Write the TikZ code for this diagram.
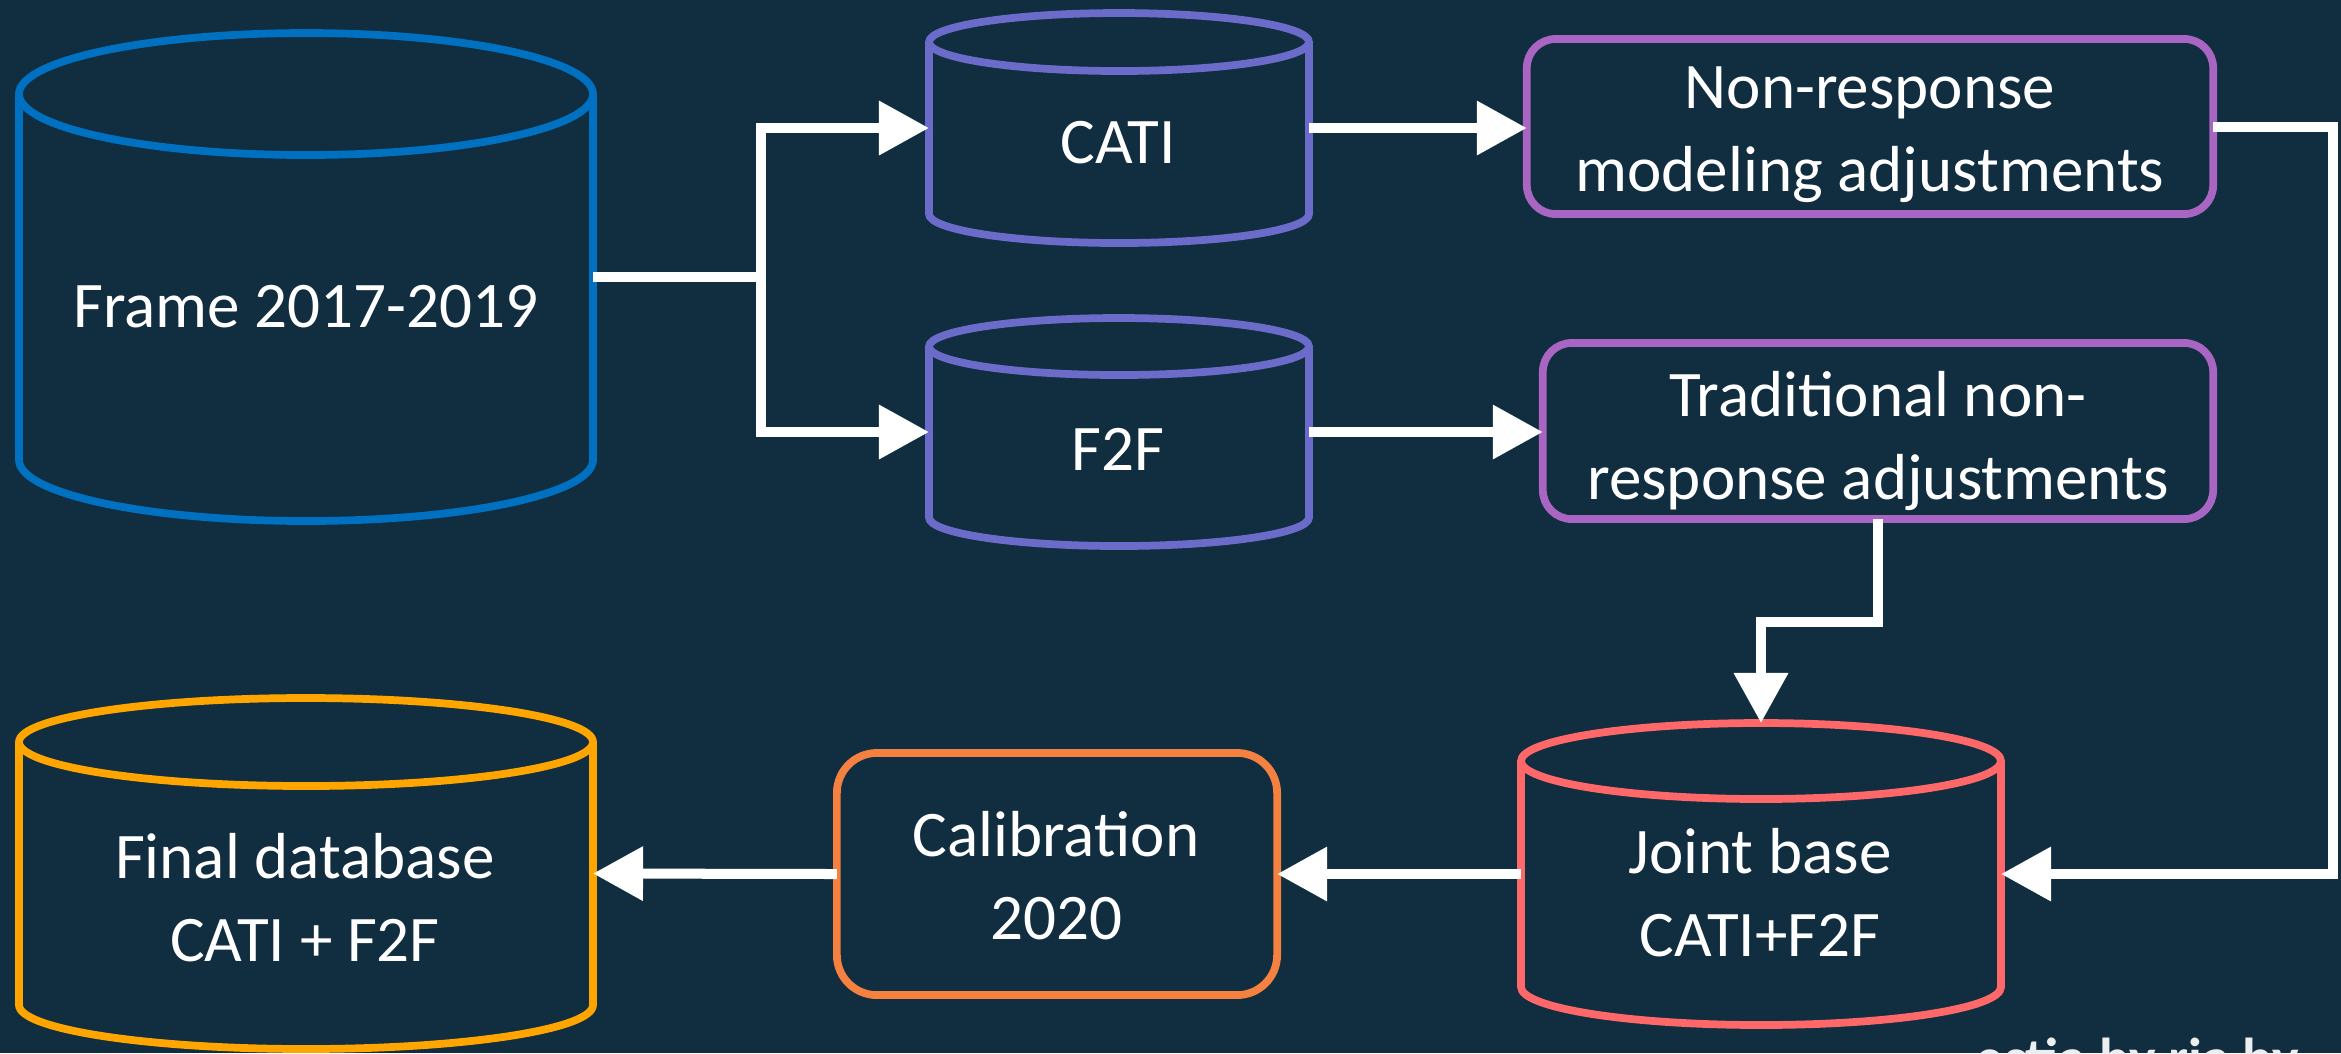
\documentclass[tikz,border=0pt]{standalone}
\usepackage{fontspec}
\setmainfont{Carlito}
\usetikzlibrary{arrows.meta,fit}
\definecolor{bgc}{HTML}{112D40}
\definecolor{cblue}{HTML}{0070C0}
\definecolor{cviolet}{HTML}{6B6BC9}
\definecolor{corchid}{HTML}{A865C2}
\definecolor{ccoral}{HTML}{FF6868}
\definecolor{corange}{HTML}{F4813F}
\definecolor{camber}{HTML}{FFA500}
\newcommand\lnstrut{\rule[-0.26em]{0pt}{1.04em}}
% #1 name, #2 left, #3 top, #4 right, #5 bottom, #6 y radius, #7 colour
\newcommand\dbcyl[7]{%
  \coordinate (#1-nw) at (#2,#3);
  \coordinate (#1-se) at (#4,#5);
  \node[cylframe, fit=(#1-nw)(#1-se)] (#1) {};
  \draw[cylline, draw=#7] ({(#2+#4)/2},{#3+#6}) ellipse [x radius={(#4-#2)/2}, y radius=#6];
  \draw[cylline, draw=#7] (#2,{#3+#6}) -- (#2,{#5-#6})
     .. controls (#2,{#5-#6+0.5523*#6}) and ({(#2+#4)/2-0.5523*(#4-#2)/2},#5) .. ({(#2+#4)/2},#5)
     .. controls ({(#2+#4)/2+0.5523*(#4-#2)/2},#5) and (#4,{#5-#6+0.5523*#6}) .. (#4,{#5-#6})
     -- (#4,{#3+#6});
}
\begin{document}
\begin{tikzpicture}[x=0.01cm, y=-0.01cm,
  cylline/.style={line width=2.2pt},
  cylframe/.style={inner sep=0pt, outer sep=0pt, draw=none},
  rbox/.style={draw, line width=2.2pt, inner sep=0pt, outer sep=0pt},
  lbl/.style={text=white, font=\fontsize{18.5}{23.5}\selectfont, align=center, inner sep=0pt},
  conn/.style={draw=white, line width=0.1cm},
  arr/.style={conn, -{Triangle[length=0.5cm,width=0.52cm]}}]
\fill[bgc] (0,0) rectangle (2341,1053);
\useasboundingbox (0,0) rectangle (2341,1053);

% cylinders
\dbcyl{frame}{19}{33}{593}{521}{61}{cblue}
\dbcyl{cati}{929}{13}{1309}{243}{29}{cviolet}
\dbcyl{f2f}{929}{318}{1309}{546}{28.5}{cviolet}
\dbcyl{joint}{1521}{723}{2001}{1025}{38}{ccoral}
\dbcyl{final}{19}{698}{593}{1049}{44}{camber}

\node[lbl] (frame-t) at (306,311) {\lnstrut Frame 2017-2019};
\node[lbl] (cati-t) at (1118,147) {\lnstrut CATI};
\node[lbl] (f2f-t) at (1118,454) {\lnstrut F2F};
\node[lbl] (joint-t) at (1760,898) {\lnstrut Joint base\\\lnstrut CATI+F2F};
\node[lbl] (final-t) at (305,903) {\lnstrut Final database\\\lnstrut CATI + F2F};

% rounded boxes
\node[rbox, draw=corchid, rounded corners=0.29cm, minimum width=6.86cm, minimum height=1.75cm] (nr) at (1870,126.5) {};
\node[rbox, draw=corchid, rounded corners=0.29cm, minimum width=6.70cm, minimum height=1.76cm] (trad) at (1878,431) {};
\node[rbox, draw=corange, rounded corners=0.40cm, minimum width=4.40cm, minimum height=2.42cm] (calib) at (1057,874) {};
\node[lbl] (nr-t) at (1870,133) {\lnstrut Non-response\\\lnstrut modeling adjustments};
\node[lbl] (trad-t) at (1878,441) {\lnstrut Traditional non-\\\lnstrut response adjustments};
\node[lbl] (calib-t) at (1056,881) {\lnstrut Calibration\\\lnstrut 2020};

% connectors
\coordinate (j1) at (761,277);
\draw[conn] (frame.east) -- (frame.east -| j1);
\draw[arr] (j1) |- (cati.west);
\draw[arr] (j1) |- (f2f.west);
\draw[arr] (cati.east) -- (cati.east -| nr.west);
\draw[arr] (f2f.east) -- (f2f.east -| trad.west);
\coordinate (rj) at (2333,874);
\draw[arr] (nr.east) -| (rj) -- (joint.east);
\coordinate (tj) at (1761,622);
\draw[arr] (trad.south) |- (tj) -- (joint.north);
\draw[arr] (joint.west) -- (calib.east);
\draw[arr] (calib.west) -- (final.east);

% partly visible caption at the bottom edge
\node[font=\fontsize{16}{18}\selectfont\bfseries, text=white!92!bgc, anchor=base west, inner sep=0pt] (wm) at (1975,1077) {estia by ria by};
\end{tikzpicture}
\end{document}
